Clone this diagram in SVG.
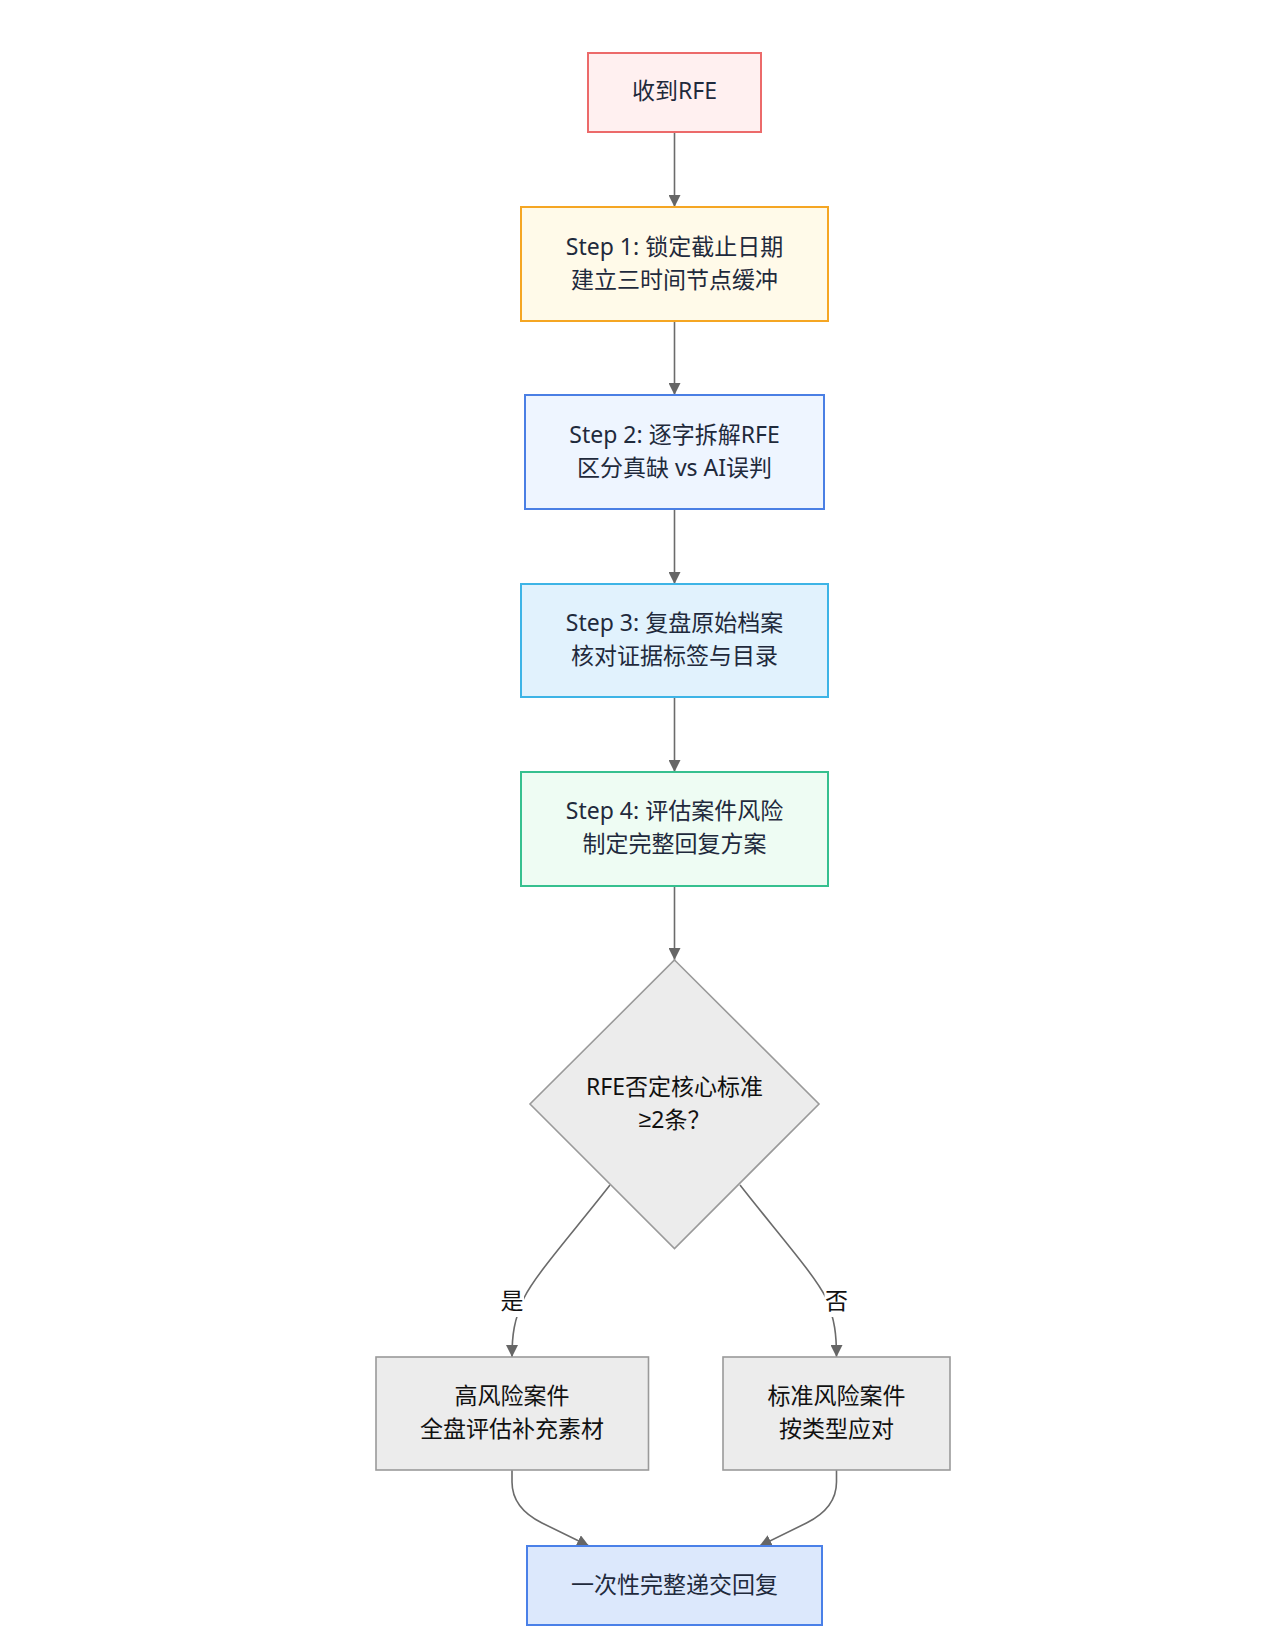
<svg xmlns="http://www.w3.org/2000/svg" width="1275" height="1641" viewBox="0 0 1275 1641">
<defs>
<style>
.t{font-family:"Noto Sans","Noto Sans CJK SC",sans-serif;font-size:23px;text-anchor:middle;dominant-baseline:central;fill:#1f2a3c}
.tk{fill:#111}
.n{stroke-width:2}
.g{fill:#ececec;stroke:#9a9a9a;stroke-width:1.6}
.e{fill:none;stroke:#6b6b6b;stroke-width:1.6}
.lb{fill:#fff}
</style>
<marker id="arr" viewBox="0 0 10 10" refX="10" refY="5" markerUnits="userSpaceOnUse" markerWidth="12" markerHeight="12" orient="auto">
<path d="M0,0 L10,5 L0,10 z" fill="#666"/>
</marker>
</defs>
<rect width="1275" height="1641" fill="#fff"/>
<g id="connectors">
<path class="e" d="M674.5,132 L674.5,207" marker-end="url(#arr)"/>
<path class="e" d="M674.5,321 L674.5,395" marker-end="url(#arr)"/>
<path class="e" d="M674.5,509 L674.5,584" marker-end="url(#arr)"/>
<path class="e" d="M674.5,697 L674.5,772" marker-end="url(#arr)"/>
<path class="e" d="M674.5,886 L674.5,960" marker-end="url(#arr)"/>
<path class="e" d="M610,1185 C575,1230 535,1275 524,1298 C514,1320 512,1335 512,1357" marker-end="url(#arr)"/>
<path class="e" d="M740,1185 C775,1230 815,1275 826,1298 C835,1320 836.5,1335 836.5,1357" marker-end="url(#arr)"/>
<path class="e" d="M512,1470 L512,1482 Q512,1508 542,1523 L589,1546" marker-end="url(#arr)"/>
<path class="e" d="M836.5,1470 L836.5,1482 Q836.5,1508 806.5,1523 L759.5,1546" marker-end="url(#arr)"/>
<rect class="lb" x="500" y="1287" width="24" height="30"/>
<text class="t tk" x="512" y="1300">是</text>
<rect class="lb" x="824.5" y="1287" width="24" height="30"/>
<text class="t tk" x="836.5" y="1300">否</text>
</g>
<g id="n_receive">
<rect class="n" x="588" y="53" width="173" height="79" fill="#fff0f0" stroke="#ec6a6a"/>
<text class="t" x="674.5" y="90">收到RFE</text>
</g>
<g id="n_step1">
<rect class="n" x="521" y="207" width="307" height="114" fill="#fffae9" stroke="#f5a623"/>
<text class="t" x="674.5" y="245.5">Step 1: 锁定截止日期</text>
<text class="t" x="674.5" y="278.5">建立三时间节点缓冲</text>
</g>
<g id="n_step2">
<rect class="n" x="525" y="395" width="299" height="114" fill="#eef5ff" stroke="#4a7fe4"/>
<text class="t" x="674.5" y="434">Step 2: 逐字拆解RFE</text>
<text class="t" x="674.5" y="467">区分真缺 vs AI误判</text>
</g>
<g id="n_step3">
<rect class="n" x="521" y="584" width="307" height="113" fill="#e1f2fd" stroke="#3db4e6"/>
<text class="t" x="674.5" y="622">Step 3: 复盘原始档案</text>
<text class="t" x="674.5" y="655">核对证据标签与目录</text>
</g>
<g id="n_step4">
<rect class="n" x="521" y="772" width="307" height="114" fill="#eefcf3" stroke="#36c08f"/>
<text class="t" x="674.5" y="810">Step 4: 评估案件风险</text>
<text class="t" x="674.5" y="843">制定完整回复方案</text>
</g>
<g id="n_decision">
<polygon class="g" points="674.5,960 819,1104 674.5,1248.5 530,1104"/>
<text class="t tk" x="674.5" y="1086">RFE否定核心标准</text>
<text class="t tk" x="674.5" y="1119"><tspan font-family="Liberation Sans">≥</tspan>2条？</text>
</g>
<g id="n_high">
<rect class="g" x="376" y="1357" width="272.5" height="113"/>
<text class="t tk" x="512" y="1395">高风险案件</text>
<text class="t tk" x="512" y="1428">全盘评估补充素材</text>
</g>
<g id="n_std">
<rect class="g" x="723" y="1357" width="227" height="113"/>
<text class="t tk" x="836.5" y="1395">标准风险案件</text>
<text class="t tk" x="836.5" y="1428">按类型应对</text>
</g>
<g id="n_submit">
<rect class="n" x="527" y="1546" width="295" height="79" fill="#dce8fc" stroke="#4a80e8"/>
<text class="t" x="674.5" y="1583.5">一次性完整递交回复</text>
</g>
</svg>
